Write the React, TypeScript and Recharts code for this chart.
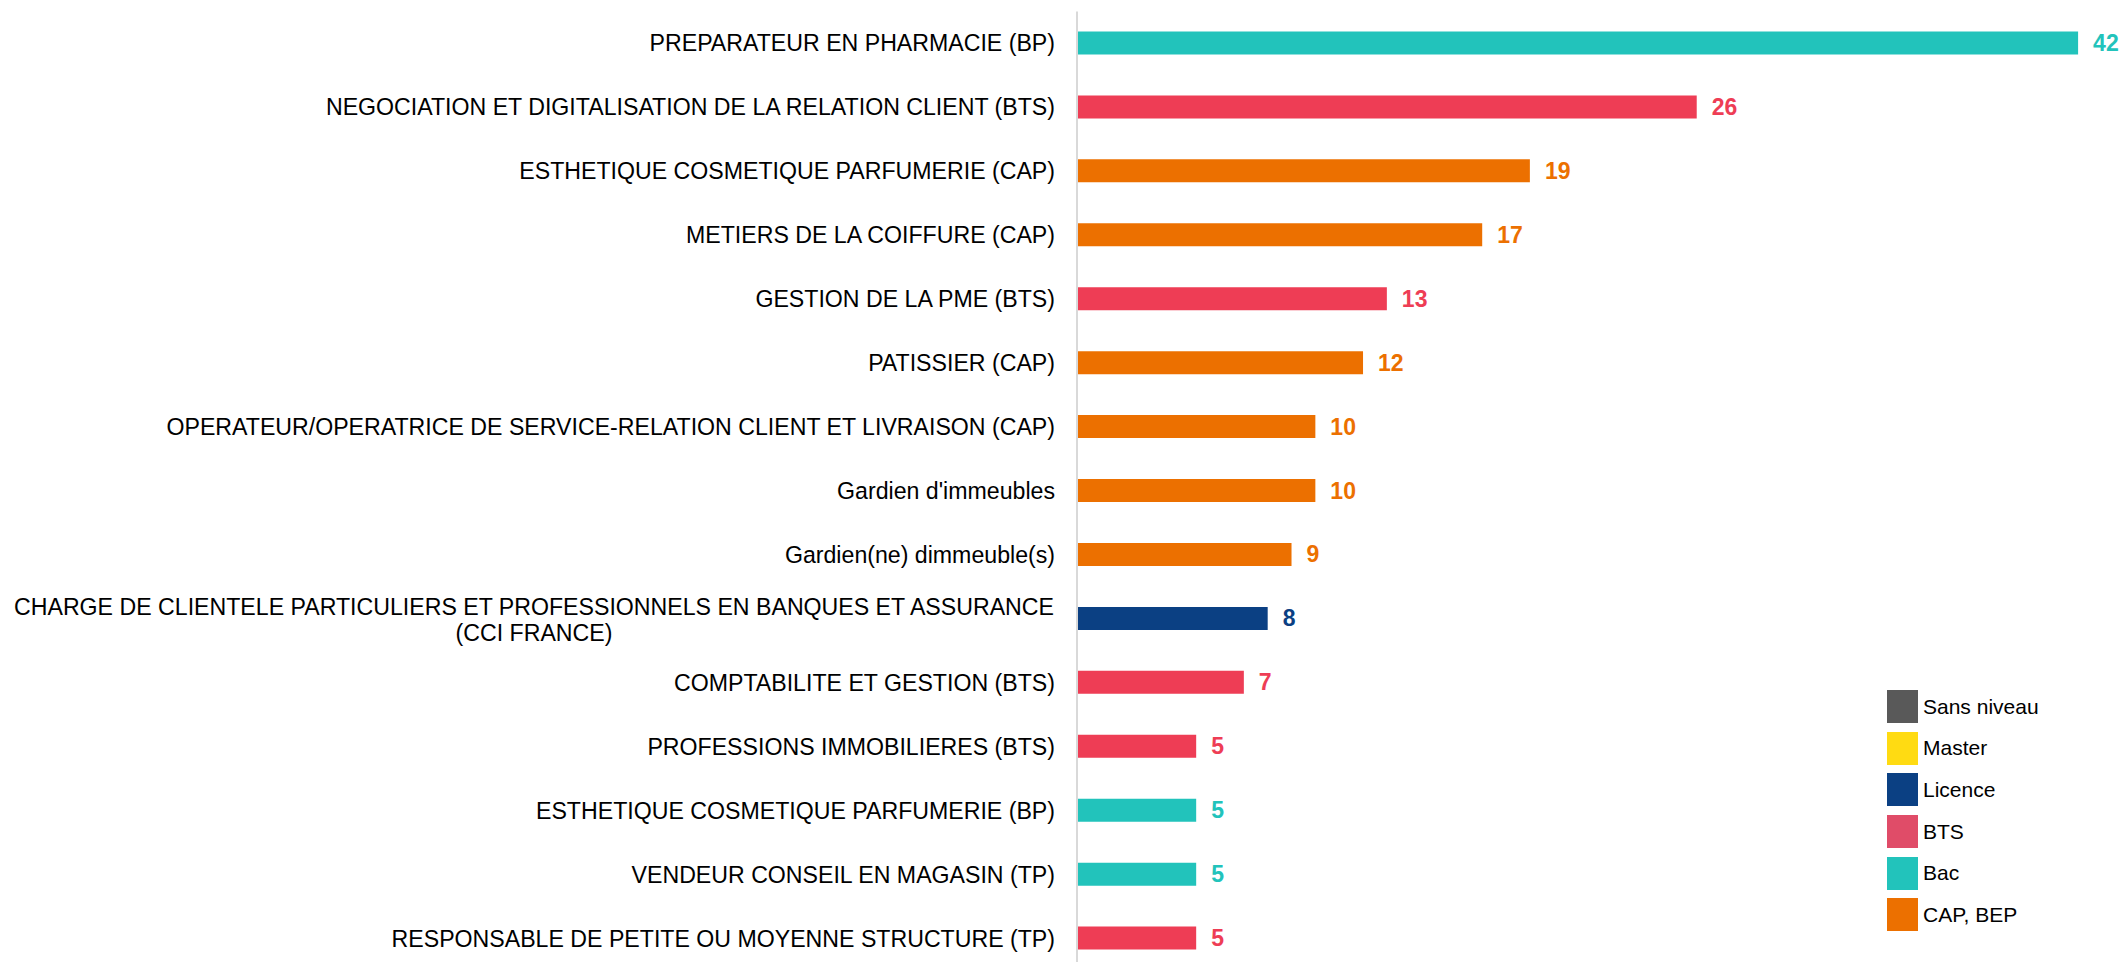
import { Bar, BarChart, Cell, LabelList, XAxis, YAxis } from "recharts";

const categories = [
  "PREPARATEUR EN PHARMACIE (BP)",
  "NEGOCIATION ET DIGITALISATION DE LA RELATION CLIENT (BTS)",
  "ESTHETIQUE COSMETIQUE PARFUMERIE (CAP)",
  "METIERS DE LA COIFFURE (CAP)",
  "GESTION DE LA PME (BTS)",
  "PATISSIER (CAP)",
  "OPERATEUR/OPERATRICE DE SERVICE-RELATION CLIENT ET LIVRAISON (CAP)",
  "Gardien d'immeubles",
  "Gardien(ne) dimmeuble(s)",
  "CHARGE DE CLIENTELE PARTICULIERS ET PROFESSIONNELS EN BANQUES ET ASSURANCE\n(CCI FRANCE)",
  "COMPTABILITE ET GESTION (BTS)",
  "PROFESSIONS IMMOBILIERES (BTS)",
  "ESTHETIQUE COSMETIQUE PARFUMERIE (BP)",
  "VENDEUR CONSEIL EN MAGASIN (TP)",
  "RESPONSABLE DE PETITE OU MOYENNE STRUCTURE (TP)",
];

const values = [42, 26, 19, 17, 13, 12, 10, 10, 9, 8, 7, 5, 5, 5, 5];

const levels = [
  "Bac", "BTS", "CAP, BEP", "CAP, BEP", "BTS", "CAP, BEP", "CAP, BEP", "CAP, BEP",
  "CAP, BEP", "Licence", "BTS", "BTS", "Bac", "Bac", "BTS",
];

const legendLabels = ["Sans niveau", "Master", "Licence", "BTS", "Bac", "CAP, BEP"];
const legendColors = ["#595959", "#FFDB12", "#0B4083", "#E04C68", "#22C3BB", "#EC7000"];

const barColors: Record<string, string> = {
  "Sans niveau": "#595959",
  Master: "#FFDB12",
  Licence: "#0B4083",
  BTS: "#EE3D55",
  Bac: "#22C3BB",
  "CAP, BEP": "#EC7000",
};

const FONT = "'Liberation Sans', Arial, sans-serif";
const LABEL_SIZE = 23.15;

const data = categories.map((name, i) => ({ name, value: values[i], level: levels[i] }));

let ctx: CanvasRenderingContext2D | null = null;
function textWidth(s: string) {
  if (!ctx) ctx = document.createElement("canvas").getContext("2d");
  if (!ctx) return s.length * 13;
  ctx.font = `${LABEL_SIZE}px ${FONT}`;
  return ctx.measureText(s).width;
}

function CategoryTick(props: any) {
  const { x, y, payload } = props;
  const lines = String(payload.value).split("\n");
  const right = x - 14;
  if (lines.length === 1) {
    return (
      <text x={right} y={y} textAnchor="end" dominantBaseline="central" fontSize={LABEL_SIZE} fontFamily={FONT} fill="#000">
        {lines[0]}
      </text>
    );
  }
  // two-line label: lines centred on each other, block right-aligned
  const w = Math.max(...lines.map(textWidth));
  const cx = right - w / 2;
  const lh = 26;
  const top = y - ((lines.length - 1) * lh) / 2 + 1;
  return (
    <text textAnchor="middle" fontSize={LABEL_SIZE} fontFamily={FONT} fill="#000">
      {lines.map((l, i) => (
        <tspan key={i} x={cx} y={top + i * lh} dominantBaseline="central">
          {l}
        </tspan>
      ))}
    </text>
  );
}

function ValueLabel(props: any) {
  const { x, y, width, height, value, index } = props;
  return (
    <text
      x={x + width + 15}
      y={y + height / 2}
      dominantBaseline="central"
      fontSize={23}
      fontWeight="bold"
      fontFamily={FONT}
      fill={barColors[levels[index]]}
    >
      {value}
    </text>
  );
}

export default function App() {
  return (
    <div style={{ position: "absolute", left: 0, top: 0, width: 2121, height: 962, overflow: "hidden", background: "#fff" }}>
      <BarChart
        layout="vertical"
        width={2121}
        height={980}
        data={data}
        margin={{ top: 11.5, right: 0, bottom: 9.5, left: 0 }}
      >
        <XAxis type="number" domain={[0, 43.8]} hide />
        <YAxis
          type="category"
          dataKey="name"
          width={1077}
          interval={0}
          tickLine={false}
          axisLine={{ stroke: "#D9D9D9", strokeWidth: 2 }}
          tick={<CategoryTick />}
        />
        <Bar dataKey="value" barSize={23} isAnimationActive={false}>
          {data.map((d, i) => (
            <Cell key={i} fill={barColors[d.level]} />
          ))}
          <LabelList dataKey="value" content={<ValueLabel />} />
        </Bar>
      </BarChart>

      <div style={{ position: "absolute", left: 1887, top: 686, fontFamily: FONT, fontSize: 21, color: "#000" }}>
        {legendLabels.map((label, i) => (
          <div key={label} style={{ display: "flex", alignItems: "center", height: 41.6 }}>
            <span style={{ width: 31, height: 33, background: legendColors[i], display: "inline-block", marginRight: 5 }} />
            {label}
          </div>
        ))}
      </div>
    </div>
  );
}
